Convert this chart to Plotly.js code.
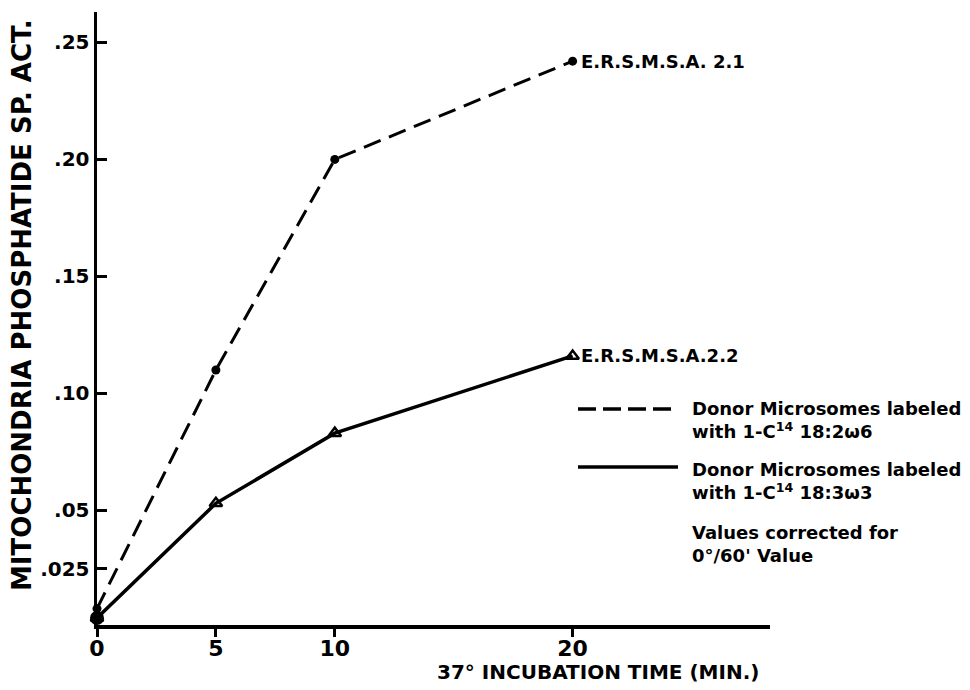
<!DOCTYPE html>
<html>
<head>
<meta charset="utf-8">
<script src="https://cdn.plot.ly/plotly-3.0.1.min.js"></script>
<style>html,body{margin:0;padding:0;background:#fff;}#chart{width:970px;height:690px;}</style>
</head>
<body>
<div id="chart"></div>
<script>
// Data
var times = [0, 5, 10, 20];
var spAct_18_2w6 = [0.008, 0.110, 0.200, 0.242];   // dashed, E.R.S.M.S.A. 2.1
var spAct_18_3w3 = [0.004, 0.053, 0.083, 0.116];   // solid, E.R.S.M.S.A. 2.2
var xTickVals = [0, 5, 10, 20];
var xTickText = ['0', '5', '10', '20'];
var yTickVals = [0.025, 0.05, 0.10, 0.15, 0.20, 0.25];
var yTickText = ['.025', '.05', '.10', '.15', '.20', '.25'];
var seriesLabels = ['E.R.S.M.S.A. 2.1', 'E.R.S.M.S.A.2.2'];
var legendTexts = ['Donor Microsomes labeled<br>with 1-C<sup>14</sup> 18:2ω6',
                   'Donor Microsomes labeled<br>with 1-C<sup>14</sup> 18:3ω3'];
var noteText = 'Values corrected for<br>0°/60\' Value';
var xTitle = '37° INCUBATION TIME (MIN.)';
var yTitle = 'MITOCHONDRIA PHOSPHATIDE SP. ACT.';

var FONT = 'DejaVu Sans';
function f(size) { return {family: FONT, size: size, color: '#000', weight: 'bold'}; }
var W = 970, H = 690;
var m = {l: 97, r: 200, t: 12, b: 65};
function px2paperX(px) { return (px - m.l) / (W - m.l - m.r); }
function px2paperY(py) { return 1 - (py - m.t) / (H - m.t - m.b); }

var traces = [
  {x: times, y: spAct_18_2w6, mode: 'lines+markers', type: 'scatter',
   line: {color: '#000', width: 3, dash: '18px,9px'},
   marker: {symbol: 'circle', size: 9, color: '#000'}, cliponaxis: false},
  {x: times, y: spAct_18_3w3, mode: 'lines+markers', type: 'scatter',
   line: {color: '#000', width: 3.5},
   marker: {symbol: 'triangle-up-open', size: 11, color: '#000', line: {width: 2.5, color: '#000'}}, cliponaxis: false},
  {x: [0], y: [spAct_18_3w3[0]], mode: 'markers', type: 'scatter',
   marker: {symbol: 'circle', size: 14, color: '#000'}, cliponaxis: false}
];

var ann = [
  {x: times[3], y: spAct_18_2w6[3], xref: 'x', yref: 'y', text: seriesLabels[0], showarrow: false,
   xanchor: 'left', xshift: 6, font: f(18)},
  {x: times[3], y: spAct_18_3w3[3], xref: 'x', yref: 'y', text: seriesLabels[1], showarrow: false,
   xanchor: 'left', xshift: 6, font: f(18)},
  {x: px2paperX(690), y: px2paperY(420), xref: 'paper', yref: 'paper', text: legendTexts[0], showarrow: false,
   xanchor: 'left', yanchor: 'middle', align: 'left', font: f(18)},
  {x: px2paperX(690), y: px2paperY(481), xref: 'paper', yref: 'paper', text: legendTexts[1], showarrow: false,
   xanchor: 'left', yanchor: 'middle', align: 'left', font: f(18)},
  {x: px2paperX(690), y: px2paperY(544), xref: 'paper', yref: 'paper', text: noteText, showarrow: false,
   xanchor: 'left', yanchor: 'middle', align: 'left', font: f(18)},
  {x: px2paperX(435), y: px2paperY(672), xref: 'paper', yref: 'paper', text: xTitle, showarrow: false,
   xanchor: 'left', yanchor: 'middle', font: f(20)},
  {x: px2paperX(22), y: px2paperY(305), xref: 'paper', yref: 'paper', text: yTitle, showarrow: false,
   textangle: -90, xanchor: 'center', yanchor: 'middle', font: f(26)}
];

var shapes = [
  {type: 'line', xref: 'paper', yref: 'paper', x0: px2paperX(578), x1: px2paperX(678),
   y0: px2paperY(409), y1: px2paperY(409), line: {color: '#000', width: 3.5, dash: '18px,7px'}},
  {type: 'line', xref: 'paper', yref: 'paper', x0: px2paperX(578), x1: px2paperX(678),
   y0: px2paperY(467), y1: px2paperY(467), line: {color: '#000', width: 3.5}}
];

var layout = {
  width: W, height: H, margin: m, showlegend: false,
  paper_bgcolor: '#fff', plot_bgcolor: '#fff',
  xaxis: {range: [0, 28.3], tickvals: xTickVals, ticktext: xTickText, showgrid: false, zeroline: false,
          showline: true, linecolor: '#000', linewidth: 3.5, ticks: 'outside', ticklen: 8, tickwidth: 3,
          tickcolor: '#000', ticklabelstandoff: -7, tickfont: f(22)},
  yaxis: {range: [0.001, 0.263], tickvals: yTickVals, ticktext: yTickText, showgrid: false, zeroline: false,
          showline: true, linecolor: '#000', linewidth: 3.5, ticks: 'inside', ticklen: 10, tickwidth: 3,
          tickcolor: '#000', tickfont: f(20)},
  annotations: ann, shapes: shapes
};

Plotly.newPlot('chart', traces, layout, {displayModeBar: false, staticPlot: true});
</script>
</body>
</html>
